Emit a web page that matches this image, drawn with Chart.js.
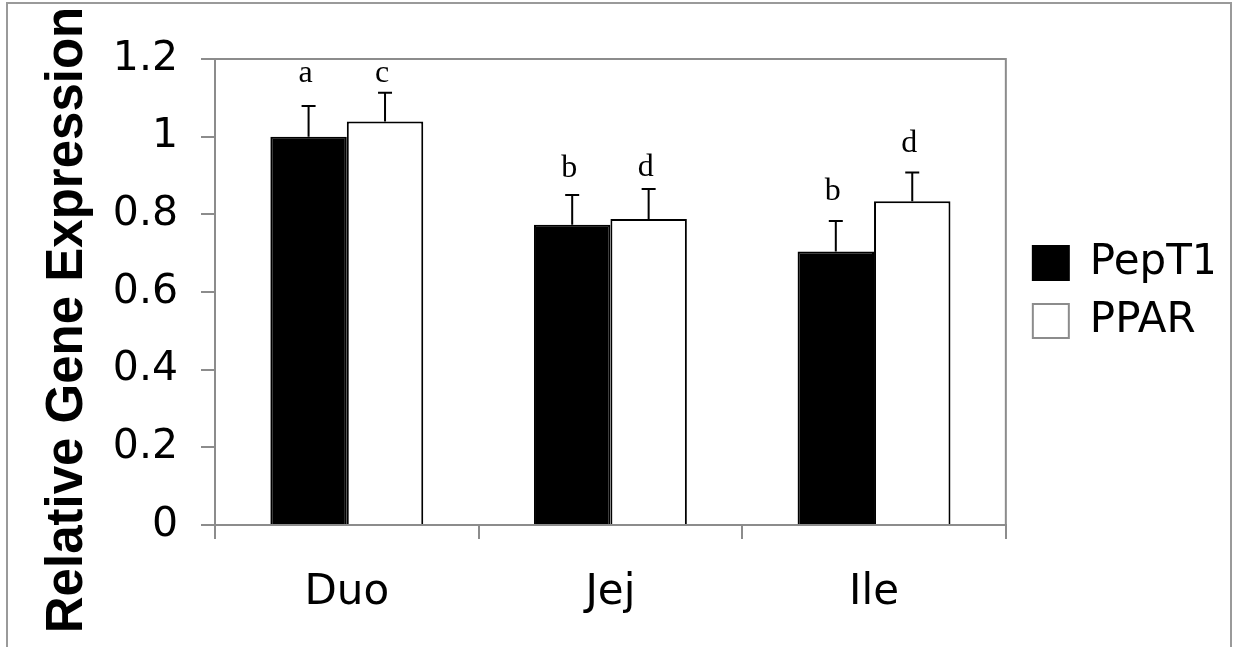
<!DOCTYPE html>
<html>
<head>
<meta charset="utf-8">
<script src="https://cdn.jsdelivr.net/npm/chart.js@4.4.1/dist/chart.umd.min.js"></script>
<style>
  html, body { margin: 0; padding: 0; background: #fff; }
  #wrap { width: 1233px; height: 647px; }
</style>
</head>
<body>
<div id="wrap"><canvas id="chart" width="1233" height="647"></canvas></div>
<script>
// values
const regions = ['Duo', 'Jej', 'Ile'];
const pept1 = [1.00, 0.773, 0.704];
const pept1Err = [0.079, 0.077, 0.079];
const ppar = [1.039, 0.788, 0.834];
const pparErr = [0.074, 0.077, 0.074];
// significance letters and the height (in y units) of their baseline
const pept1Letters = ['a', 'b', 'b'];
const pept1LetterAt = [1.141, 0.896, 0.837];
const pparLetters = ['c', 'd', 'd'];
const pparLetterAt = [1.141, 0.899, 0.961];
const yTicks = { min: 0, max: 1.2, step: 0.2 };
const yTitle = 'Relative Gene Expression';

const GRAY = '#8c8c8c';

const errorBars = {
  id: 'errorBars',
  afterDatasetsDraw(chart) {
    const ctx = chart.ctx;
    const y = chart.scales.y;
    chart.data.datasets.forEach((ds, i) => {
      const meta = chart.getDatasetMeta(i);
      meta.data.forEach((bar, j) => {
        const top = y.getPixelForValue(ds.data[j] + ds.errors[j]);
        ctx.save();
        ctx.strokeStyle = '#000';
        ctx.lineWidth = 2;
        ctx.beginPath();
        ctx.moveTo(bar.x, bar.y);
        ctx.lineTo(bar.x, top);
        ctx.moveTo(bar.x - 7, top);
        ctx.lineTo(bar.x + 7, top);
        ctx.stroke();
        ctx.fillStyle = '#000';
        ctx.font = '32px "Liberation Serif", "Times New Roman", serif';
        ctx.textAlign = 'center';
        ctx.textBaseline = 'alphabetic';
        ctx.fillText(ds.letters[j], bar.x - 3, y.getPixelForValue(ds.letterAt[j]));
        ctx.restore();
      });
    });
  }
};

const frames = {
  id: 'frames',
  beforeDatasetsDraw(chart) {
    const ctx = chart.ctx;
    const a = chart.chartArea;
    ctx.save();
    ctx.strokeStyle = GRAY;
    ctx.lineWidth = 2;
    ctx.beginPath();
    ctx.moveTo(a.left, a.top);
    ctx.lineTo(a.right, a.top);
    ctx.lineTo(a.right, a.bottom);
    ctx.stroke();
    ctx.restore();
  },
  afterDraw(chart) {
    const ctx = chart.ctx;
    ctx.save();
    ctx.strokeStyle = '#9a9a9a';
    ctx.lineWidth = 2;
    ctx.strokeRect(7, 3, 1224, 700);
    // y axis title, centred on the whole figure like the original
    ctx.translate(82, 320);
    ctx.rotate(-Math.PI / 2);
    ctx.fillStyle = '#000';
    ctx.font = 'bold 51px "Liberation Sans", Arial, sans-serif';
    ctx.textAlign = 'center';
    ctx.textBaseline = 'alphabetic';
    ctx.fillText(yTitle, 0, 0);
    ctx.restore();
  }
};

new Chart(document.getElementById('chart'), {
  type: 'bar',
  data: {
    labels: regions,
    datasets: [{
      label: 'PepT1',
      data: pept1,
      errors: pept1Err,
      letters: pept1Letters,
      letterAt: pept1LetterAt,
      backgroundColor: '#000',
      borderColor: '#000',
      borderWidth: 2
    }, {
      label: 'PPAR',
      data: ppar,
      errors: pparErr,
      letters: pparLetters,
      letterAt: pparLetterAt,
      backgroundColor: '#fff',
      borderColor: '#000',
      borderWidth: 2
    }]
  },
  options: {
    responsive: false,
    animation: false,
    categoryPercentage: 0.58,
    barPercentage: 1,
    layout: { padding: { left: 36, top: 59, right: 20, bottom: 0 } },
    plugins: {
      tooltip: { enabled: false },
      legend: {
        position: 'right',
        fullSize: false,
        labels: {
          color: '#000',
          font: { family: '"DejaVu Sans", Verdana, sans-serif', size: 42 },
          boxWidth: 36,
          boxHeight: 34,
          padding: 16,
          generateLabels(chart) {
            const items = Chart.defaults.plugins.legend.labels.generateLabels(chart);
            items[1].strokeStyle = GRAY;
            items.forEach(it => { it.lineWidth = 2; });
            return items;
          }
        }
      }
    },
    scales: {
      x: {
        grid: {
          drawOnChartArea: false,
          drawTicks: true,
          tickLength: 14,
          color: GRAY,
          lineWidth: 2
        },
        border: { color: GRAY, width: 2 },
        ticks: {
          color: '#000',
          padding: 29,
          font: { family: '"DejaVu Sans", Verdana, sans-serif', size: 42 }
        },
        afterFit(s) { s.height = 122; }
      },
      y: {
        min: yTicks.min,
        max: yTicks.max,
        grid: {
          drawOnChartArea: false,
          drawTicks: true,
          tickLength: 14,
          color: GRAY,
          lineWidth: 2
        },
        border: { color: GRAY, width: 2 },
        ticks: {
          stepSize: yTicks.step,
          color: '#000',
          padding: 23,
          font: { family: '"DejaVu Sans", Verdana, sans-serif', size: 41 },
          callback: v => String(Math.round(v * 10) / 10)
        },
        afterFit(s) { s.width = 179; }
      },
      gap: {
        type: 'linear',
        position: 'right',
        display: true,
        grid: { display: false, drawTicks: false },
        border: { display: false },
        ticks: { display: false },
        afterFit(s) { s.width = 11; }
      }
    }
  },
  plugins: [frames, errorBars]
});
</script>
</body>
</html>
